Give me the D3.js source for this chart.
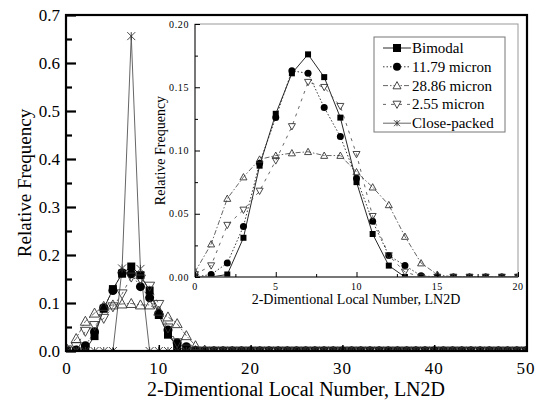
<!DOCTYPE html>
<html>
<head>
<meta charset="utf-8">
<script src="https://cdn.jsdelivr.net/npm/d3@7"></script>
<style>
  body { margin: 0; background: #fff; }
  svg { display: block; }
</style>
</head>
<body>
<div id="chart"></div>
<script>
// local number 0..50
const ln2d = d3.range(0, 51);

// relative frequencies (x = 0..50)
const bimodal = [0, 0, 0.002, 0.031, 0.088, 0.129, 0.161, 0.176, 0.158, 0.126, 0.075, 0.034, 0.009, 0, 0,
  0, 0, 0, 0, 0, 0, 0, 0, 0, 0, 0, 0, 0, 0, 0, 0, 0, 0, 0, 0, 0, 0, 0, 0, 0, 0, 0, 0, 0, 0, 0, 0, 0, 0, 0, 0];
const micron1179 = [0, 0.002, 0.011, 0.040, 0.090, 0.126, 0.163, 0.161, 0.134, 0.111, 0.078, 0.044, 0.017, 0.009, 0.001,
  0, 0, 0, 0, 0, 0, 0, 0, 0, 0, 0, 0, 0, 0, 0, 0, 0, 0, 0, 0, 0, 0, 0, 0, 0, 0, 0, 0, 0, 0, 0, 0, 0, 0, 0, 0];
const micron2886 = [0.004, 0.026, 0.062, 0.079, 0.093, 0.096, 0.098, 0.099, 0.096, 0.096, 0.083, 0.071, 0.057, 0.032, 0.011,
  0.002, 0, 0, 0, 0, 0, 0, 0, 0, 0, 0, 0, 0, 0, 0, 0, 0, 0, 0, 0, 0, 0, 0, 0, 0, 0, 0, 0, 0, 0, 0, 0, 0, 0, 0, 0];
const micron255 = [0.002, 0.009, 0.041, 0.053, 0.068, 0.092, 0.119, 0.154, 0.150, 0.135, 0.097, 0.048, 0.017, 0.004, 0,
  0, 0, 0, 0, 0, 0, 0, 0, 0, 0, 0, 0, 0, 0, 0, 0, 0, 0, 0, 0, 0, 0, 0, 0, 0, 0, 0, 0, 0, 0, 0, 0, 0, 0, 0, 0];
const closePacked = [0, 0, 0, 0, 0, 0, 0.172, 0.656, 0.171, 0, 0, 0, 0, 0, 0,
  0, 0, 0, 0, 0, 0, 0, 0, 0, 0, 0, 0, 0, 0, 0, 0, 0, 0, 0, 0, 0, 0, 0, 0, 0, 0, 0, 0, 0, 0, 0, 0, 0, 0, 0, 0];

const seriesNames = ["Bimodal", "11.79 micron", "28.86 micron", "2.55 micron", "Close-packed"];
const mainXTicks = [0, 10, 20, 30, 40, 50];
const mainYTicks = [0, 0.1, 0.2, 0.3, 0.4, 0.5, 0.6, 0.7];
const insetXTicks = [0, 5, 10, 15, 20];
const insetYTicks = [0, 0.05, 0.10, 0.15, 0.20];

const series = [
  { name: seriesNames[0], values: bimodal, marker: "square", dash: null, stroke: "#111" },
  { name: seriesNames[1], values: micron1179, marker: "circle", dash: "1.5,2", stroke: "#222" },
  { name: seriesNames[2], values: micron2886, marker: "up", dash: "5,2,1.5,2", stroke: "#555" },
  { name: seriesNames[3], values: micron255, marker: "down", dash: "3,5", stroke: "#555" },
  { name: seriesNames[4], values: closePacked, marker: "star", dash: null, stroke: "#555" }
];

const FONT = "Liberation Serif";
const width = 536, height = 405;
const svg = d3.select("#chart").append("svg")
  .attr("width", width).attr("height", height);

// marker path generator, s = nominal size in px
function markerPath(type, s) {
  if (type === "square") { const h = s / 2; return `M${-h},${-h}h${s}v${s}h${-s}Z`; }
  if (type === "circle") return d3.symbol(d3.symbolCircle, Math.PI * (s / 2) * (s / 2))();
  if (type === "up") { const h = s / 2; return `M0,${-h}L${h},${h * 0.8}L${-h},${h * 0.8}Z`; }
  if (type === "down") { const h = s / 2; return `M0,${h}L${h},${-h * 0.8}L${-h},${-h * 0.8}Z`; }
  const h = s / 2;
  return `M${-h},${-h}L${h},${h}M${-h},${h}L${h},${-h}M0,${-h}V${h}`;
}
function styleMarker(sel, d) {
  if (d.marker === "square" || d.marker === "circle") sel.attr("fill", "#000").attr("stroke", "none");
  else sel.attr("fill", "none").attr("stroke", "#333").attr("stroke-width", 0.9);
}

function drawPlot(g, x, y, data, opts) {
  const clipId = "clip-" + opts.id;
  g.append("clipPath").attr("id", clipId).append("rect")
    .attr("x", x.range()[0]).attr("y", y.range()[1])
    .attr("width", x.range()[1] - x.range()[0]).attr("height", y.range()[0] - y.range()[1]);
  const body = g.append("g").attr("clip-path", `url(#${clipId})`);
  const line = d3.line().x(d => x(d[0])).y(d => y(d[1]));
  data.forEach(s => {
    const pts = ln2d.map((v, i) => [v, s.values[i]]).filter(p => p[0] <= x.domain()[1]);
    body.append("path").datum(pts)
      .attr("d", line).attr("fill", "none")
      .attr("stroke", s.stroke).attr("stroke-width", 0.9)
      .attr("stroke-dasharray", s.dash);
  });
  data.forEach(s => {
    const pts = ln2d.map((v, i) => [v, s.values[i]]).filter(p => p[0] <= x.domain()[1]);
    const size = opts.sizes[s.marker];
    body.append("g").selectAll("path").data(pts).join("path")
      .attr("transform", p => `translate(${x(p[0])},${y(p[1])})`)
      .attr("d", markerPath(s.marker, size))
      .call(sel => styleMarker(sel, s));
  });
}

// ---- main plot ----
const x = d3.scaleLinear().domain([0, 50]).range([67, 526]);
const y = d3.scaleLinear().domain([0, 0.7]).range([351, 15]);
const main = svg.append("g");

drawPlot(main, x, y, series, { id: "main", sizes: { square: 8, circle: 9, up: 10, down: 10, star: 8 } });

main.append("rect").attr("x", 66).attr("y", 15).attr("width", 461).attr("height", 336)
  .attr("fill", "none").attr("stroke", "#000").attr("stroke-width", 2.2);

main.append("g").attr("transform", `translate(${x(0) - 1},0)`)
  .call(d3.axisRight(y).tickValues(mainYTicks).tickSize(10).tickFormat(() => ""))
  .call(a => { a.select(".domain").remove(); a.selectAll("line").attr("stroke-width", 2.2); });
main.append("g").attr("transform", `translate(${x(0) - 1},0)`)
  .call(d3.axisRight(y).tickValues(d3.range(0.05, 0.7, 0.1)).tickSize(6).tickFormat(() => ""))
  .call(a => { a.select(".domain").remove(); a.selectAll("line").attr("stroke-width", 2.2); });
main.selectAll(".ylab").data(mainYTicks).join("text")
  .attr("font-family", FONT)
  .attr("x", 60).attr("y", d => y(d) + 6).attr("text-anchor", "end")
  .attr("font-size", 17).text(d3.format(".1f"));

main.append("g").attr("transform", `translate(0,${y(0)})`)
  .call(d3.axisTop(x).tickValues(mainXTicks.slice(1, -1)).tickSize(6).tickFormat(() => ""))
  .call(a => { a.select(".domain").remove(); a.selectAll("line").attr("stroke-width", 1.5); });
main.append("g").attr("transform", `translate(0,${y(0)})`)
  .call(d3.axisTop(x).tickValues(d3.range(5, 50, 10)).tickSize(3).tickFormat(() => ""))
  .call(a => { a.select(".domain").remove(); a.selectAll("line").attr("stroke-width", 1.2); });
main.selectAll(".xlab").data(mainXTicks).join("text")
  .attr("font-family", FONT)
  .attr("x", d => x(d)).attr("y", 374).attr("text-anchor", "middle")
  .attr("font-size", 17).attr("letter-spacing", 1).text(d => d);

main.append("text").attr("font-family", FONT)
  .attr("transform", `translate(31,${(15 + 351) / 2}) rotate(-90)`)
  .attr("text-anchor", "middle").attr("font-size", 19).text("Relative Frequency");
main.append("text").attr("font-family", FONT)
  .attr("x", 296).attr("y", 396).attr("text-anchor", "middle")
  .attr("font-size", 20).text("2-Dimentional Local Number, LN2D");

// ---- inset ----
const xi = d3.scaleLinear().domain([0, 20]).range([195, 518]);
const yi = d3.scaleLinear().domain([0, 0.2]).range([277, 24]);
const inset = svg.append("g");
inset.append("rect").attr("x", 195).attr("y", 24).attr("width", 323).attr("height", 253).attr("fill", "#fff");

drawPlot(inset, xi, yi, series.slice(0, 4), { id: "inset", sizes: { square: 6, circle: 7, up: 7, down: 7, star: 6 } });

inset.append("rect").attr("x", 195).attr("y", 24).attr("width", 323).attr("height", 253)
  .attr("fill", "none").attr("stroke", "#999").attr("stroke-width", 1);
inset.append("line").attr("x1", 195).attr("x2", 195).attr("y1", 24).attr("y2", 277).attr("stroke", "#222");
inset.append("line").attr("x1", 195).attr("x2", 518).attr("y1", 277).attr("y2", 277).attr("stroke", "#222");

inset.append("g").attr("transform", "translate(195,0)")
  .call(d3.axisRight(yi).tickValues(insetYTicks).tickSize(5).tickFormat(() => ""))
  .call(a => a.select(".domain").remove());
inset.append("g").attr("transform", "translate(195,0)")
  .call(d3.axisRight(yi).tickValues(d3.range(0.025, 0.2, 0.05)).tickSize(3).tickFormat(() => ""))
  .call(a => a.select(".domain").remove());
inset.append("g").attr("transform", "translate(0,277)")
  .call(d3.axisTop(xi).tickValues(insetXTicks).tickSize(5).tickFormat(() => ""))
  .call(a => a.select(".domain").remove());
inset.append("g").attr("transform", "translate(0,277)")
  .call(d3.axisTop(xi).tickValues(d3.range(2.5, 20, 5)).tickSize(3).tickFormat(() => ""))
  .call(a => a.select(".domain").remove());

inset.selectAll(".iylab").data(insetYTicks).join("text")
  .attr("font-family", FONT)
  .attr("x", 189).attr("y", d => yi(d) + 3.5).attr("text-anchor", "end")
  .attr("font-size", 10).attr("letter-spacing", 0.6).text(d3.format(".2f"));
inset.selectAll(".ixlab").data(insetXTicks).join("text")
  .attr("font-family", FONT)
  .attr("x", d => xi(d)).attr("y", 290).attr("text-anchor", "middle")
  .attr("font-size", 10).attr("letter-spacing", 0.6).text(d => d);
inset.append("text").attr("font-family", FONT)
  .attr("transform", `translate(165,${(24 + 277) / 2}) rotate(-90)`)
  .attr("text-anchor", "middle").attr("font-size", 14).text("Relative Frequency");
inset.append("text").attr("font-family", FONT)
  .attr("x", 356).attr("y", 304).attr("text-anchor", "middle")
  .attr("font-size", 14).text("2-Dimentional Local Number, LN2D");

// ---- legend ----
const legend = svg.append("g");
legend.append("rect").attr("x", 374).attr("y", 37).attr("width", 131).attr("height", 95)
  .attr("fill", "#fff").attr("stroke", "#777").attr("stroke-width", 1);
const item = legend.selectAll(".item").data(series).join("g")
  .attr("transform", (d, i) => `translate(0,${48 + i * 18.8})`);
item.append("line").attr("x1", 383).attr("x2", 411).attr("y1", 0).attr("y2", 0)
  .attr("stroke", d => d.stroke).attr("stroke-width", 0.9).attr("stroke-dasharray", d => d.dash);
item.append("path").attr("transform", "translate(397,0)")
  .attr("d", d => markerPath(d.marker, d.marker === "star" ? 6 : 8))
  .each(function (d) { styleMarker(d3.select(this), d); })
  .filter(d => d.marker === "up" || d.marker === "down").attr("fill", "#fff");
item.append("text").attr("font-family", FONT)
  .attr("x", 412).attr("y", 5).attr("font-size", 15).text(d => d.name);
</script>
</body>
</html>
